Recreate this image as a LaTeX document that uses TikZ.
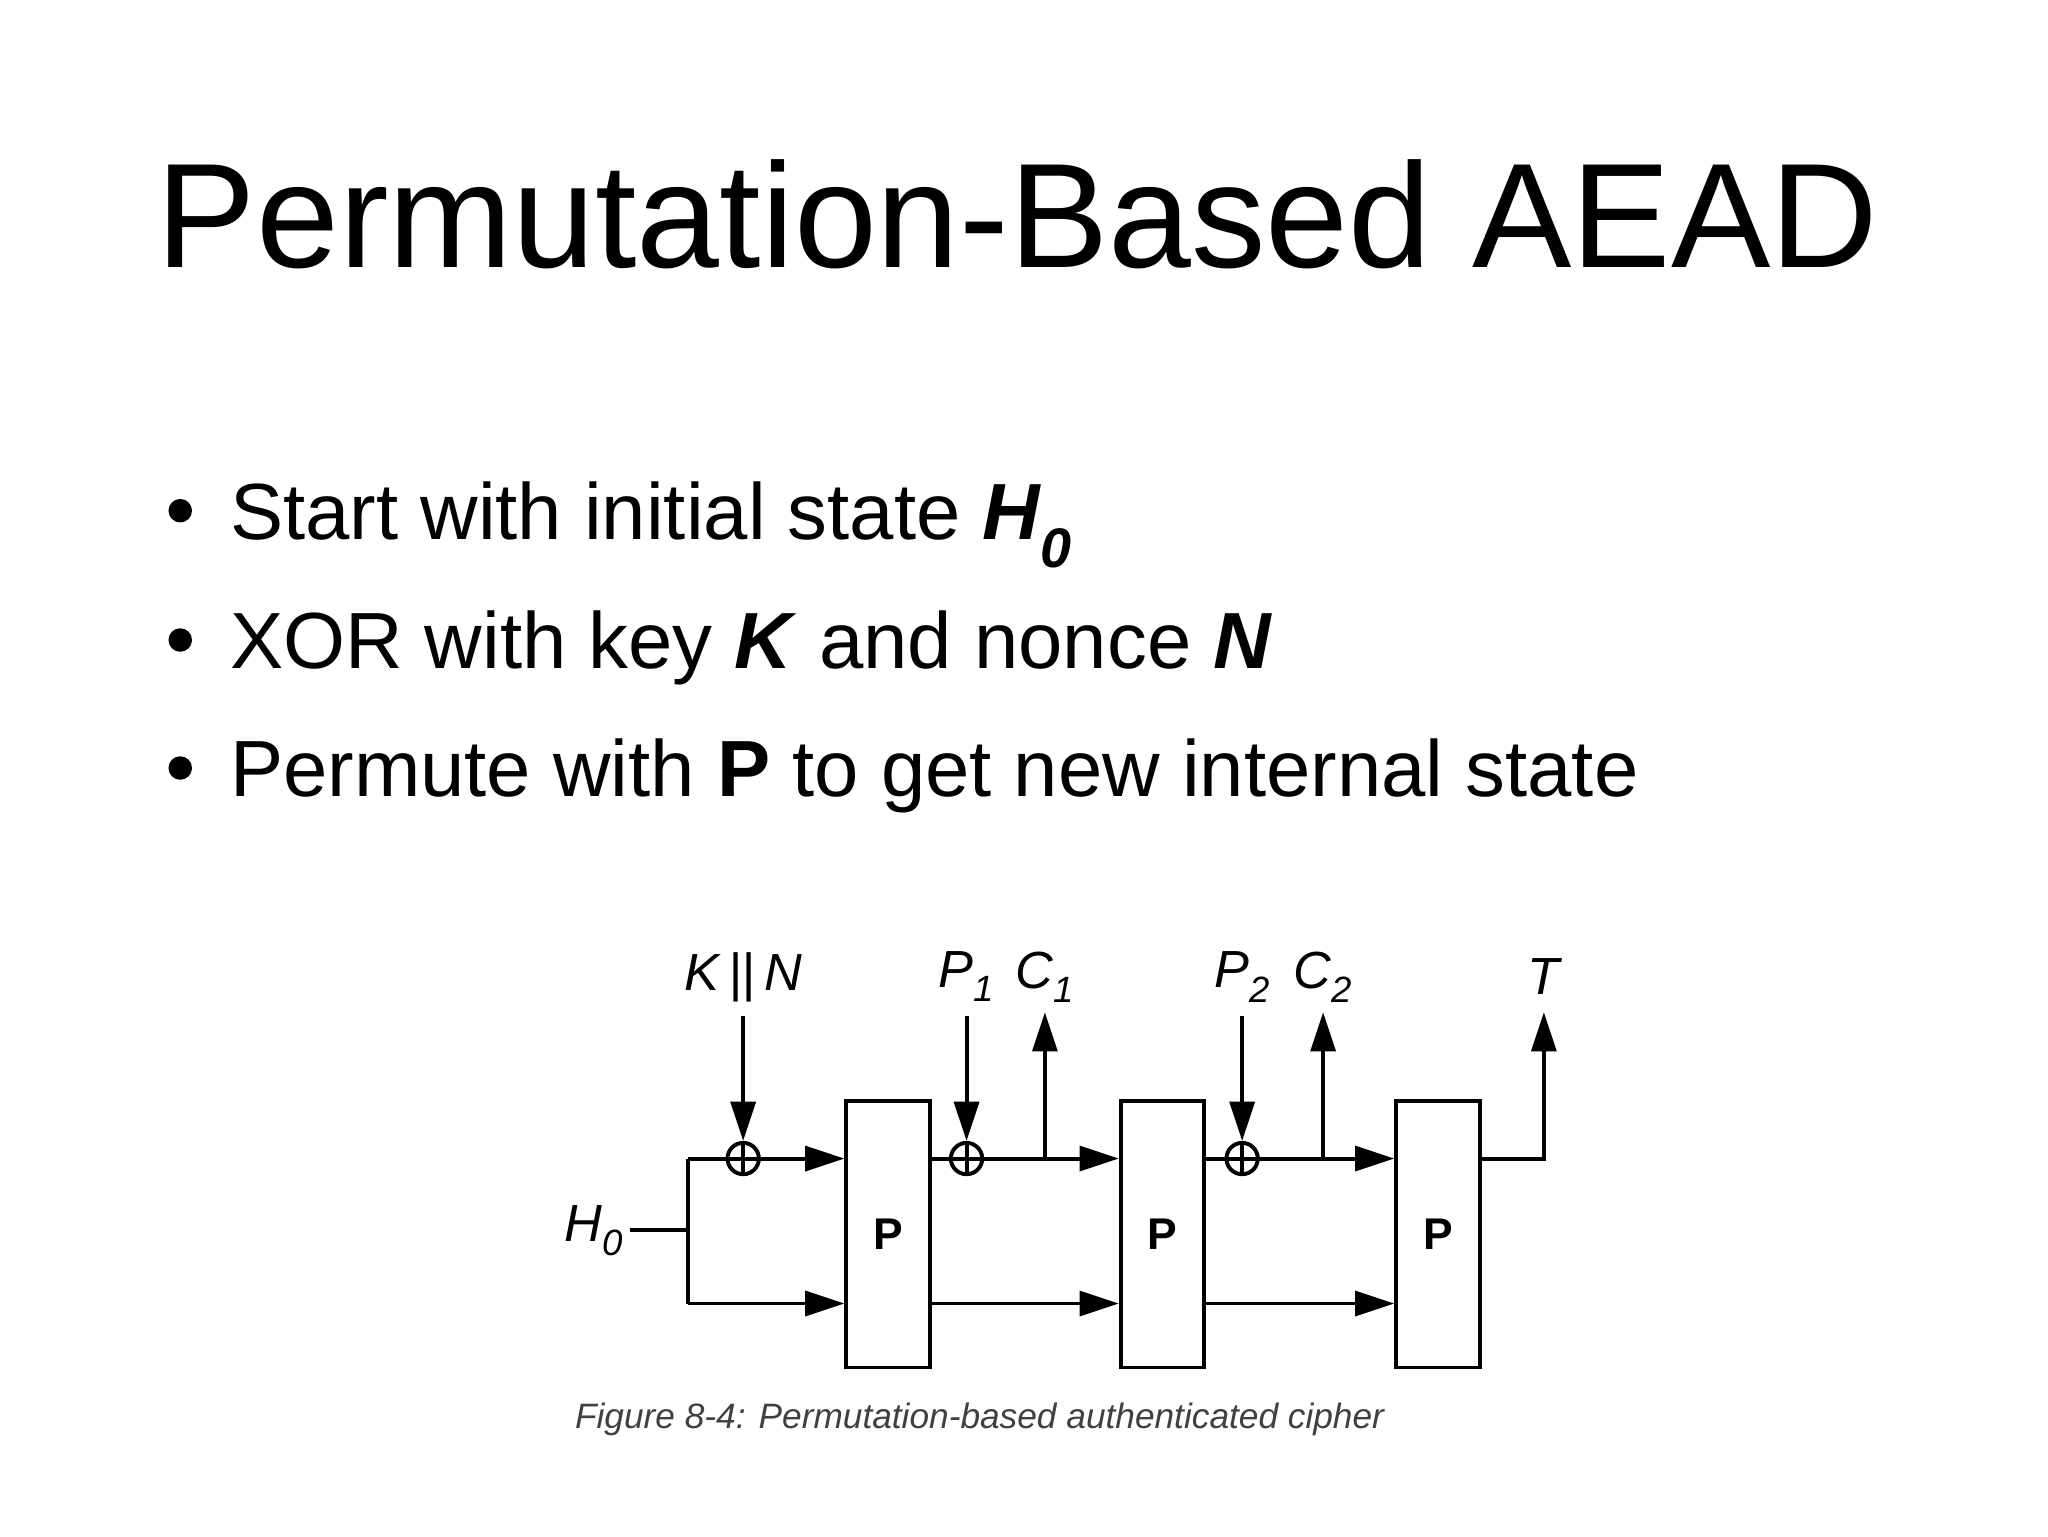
\documentclass[tikz,border=0pt]{standalone}
\usepackage{fontspec}
\setmainfont{Liberation Sans}
\usetikzlibrary{arrows.meta}
\begin{document}
\begin{tikzpicture}[x=1pt,y=-1pt,
  ln/.style={line width=3pt},
  arr/.style={ln,-{Triangle[length=30pt,width=19pt]}},
  pbox/.style={draw,line width=3pt,minimum width=64pt,minimum height=204pt,inner sep=0pt,font=\fontsize{34}{36}\selectfont\bfseries},
  xo/.style={draw,circle,line width=3pt,minimum size=24pt,inner sep=0pt},
  lab/.style={font=\fontsize{40}{44}\selectfont\itshape,inner sep=0pt},
  bul/.style={anchor=base west,inner sep=0pt,font=\fontsize{61}{70}\selectfont}]
\useasboundingbox (0,0) rectangle (1568,1176);
\node[anchor=base west,inner sep=0pt,font=\fontsize{114}{124}\selectfont] (title) at (120,205) {Permutation-Based AEAD};
\foreach \y in {413,512,610}{\fill (138,\y-22) circle (9);}
\node[bul] (b1) at (176,413) {Start with initial state \textbf{\textit{H\textsubscript{0}}}};
\node[bul] (b2) at (176,512) {XOR with key \textbf{\textit{K}} and nonce \textbf{\textit{N}}};
\node[bul] (b3) at (176,610) {Permute with \textbf{P} to get new internal state};
% diagram
\node[pbox] (p1) at (680,945) {P};
\node[pbox] (p2) at (890,945) {P};
\node[pbox] (p3) at (1101,945) {P};
\node[xo] (x1) at (569,887) {};
\node[xo] (x2) at (740,887) {};
\node[xo] (x3) at (951,887) {};
\draw[ln] (x1.north)--(x1.south) (x1.west)--(x1.east);
\draw[ln] (x2.north)--(x2.south) (x2.west)--(x2.east);
\draw[ln] (x3.north)--(x3.south) (x3.west)--(x3.east);
\node[lab] (h0) at (455,942) {H\textsubscript{0}};
\node[lab] (kn) at (569,748) {K\,||\,N};
\node[lab] (pp1) at (740,748) {P\textsubscript{1}};
\node[lab] (cc1) at (800,748) {C\textsubscript{1}};
\node[lab] (pp2) at (951,748) {P\textsubscript{2}};
\node[lab] (cc2) at (1013,748) {C\textsubscript{2}};
\node[lab] (t) at (1182,748) {T};
\coordinate (s) at (527,942);
\coordinate (st) at (527,887);
\coordinate (sb) at (527,998);
\draw[ln] (482,942) -- (s);
\draw[ln] (st) -- (sb);
\draw[ln] (st) -- (x1.west);
\draw[arr] (x1.east) -- (p1.west |- x1);
\draw[arr] (sb) -- (p1.west |- sb);
\draw[ln] (p1.east |- x2) -- (x2.west);
\draw[arr] (x2.east) -- (p2.west |- x2);
\draw[arr] (p1.east |- sb) -- (p2.west |- sb);
\draw[ln] (p2.east |- x3) -- (x3.west);
\draw[arr] (x3.east) -- (p3.west |- x3);
\draw[arr] (p2.east |- sb) -- (p3.west |- sb);
\draw[arr] (569,778) -- (x1.north);
\draw[arr] (740,778) -- (x2.north);
\draw[arr] (951,778) -- (x3.north);
\draw[arr] (800,887) -- (800,775);
\draw[arr] (1013,887) -- (1013,775);
\draw[arr] (p3.east |- x3) -- (1182,887) -- (1182,775);
\node[inner sep=0pt,font=\fontsize{27}{30}\selectfont\itshape,text=black!75] (cap) at (750,1087) {Figure 8-4: Permutation-based authenticated cipher};
\end{tikzpicture}
\end{document}
